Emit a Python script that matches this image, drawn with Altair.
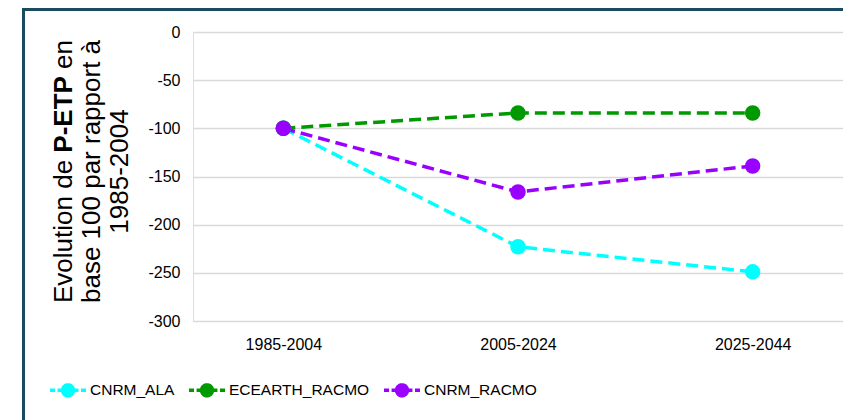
import altair as alt
import pandas as pd

periods = ["1985-2004", "2005-2024", "2025-2044"]
series_names = ["CNRM_ALA", "ECEARTH_RACMO", "CNRM_RACMO"]
cnrm_ala = [-100, -223, -249]
ecearth_racmo = [-100, -84, -84]
cnrm_racmo = [-100, -166, -139]
series_colors = ["#00FFFF", "#009900", "#9900FF"]
y_ticks = [0, -50, -100, -150, -200, -250, -300]

rows = []
for name, vals in zip(series_names, [cnrm_ala, ecearth_racmo, cnrm_racmo]):
    for p, v in zip(periods, vals):
        rows.append({"serie": name, "periode": p, "valeur": v, "ordre": series_names.index(name)})
df = pd.DataFrame(rows)

FONT = "Liberation Sans"
W, H = 650, 289
PAD_L, PAD_T, PAD_R, PAD_B = 185, 24, 0, 99
FRAME = "#1B4B5F"

x_enc = alt.X("periode:N", sort=periods,
              scale=alt.Scale(type="point", padding=0.385),
              axis=alt.Axis(title=None, labelAngle=0, ticks=False, domain=False,
                            labelPadding=15, labelFontSize=16, labelFont=FONT,
                            labelColor="#000000", grid=False))
y_enc = alt.Y("valeur:Q", scale=alt.Scale(domain=[-300, 0], nice=False),
              axis=alt.Axis(title=None, values=y_ticks, ticks=False, domain=False,
                            labelExpr="toString(datum.value)",
                            labelPadding=13, labelFontSize=16, labelFont=FONT,
                            labelColor="#000000", grid=True, gridColor="#D9D9D9",
                            gridWidth=1.5))
color_scale = alt.Scale(domain=series_names, range=series_colors)

# legend symbol: dashes + a dot drawn as concentric rings
sym_path = ("M-1,0L-0.72,0M-0.58,0L-0.3,0M0.3,0L0.58,0M0.72,0L1,0"
            "M0.3,0A0.3,0.3 0 1 1 -0.3,0A0.3,0.3 0 1 1 0.3,0Z"
            "M0.2,0A0.2,0.2 0 1 1 -0.2,0A0.2,0.2 0 1 1 0.2,0Z"
            "M0.1,0A0.1,0.1 0 1 1 -0.1,0A0.1,0.1 0 1 1 0.1,0Z")

lines = alt.Chart(df).mark_line(strokeDash=[12, 6], strokeWidth=3.5).encode(
    x=x_enc, y=y_enc,
    color=alt.Color("serie:N", scale=color_scale,
                    legend=alt.Legend(
                        title=None, orient="none", direction="horizontal",
                        legendX=-145, legendY=338,
                        symbolType=sym_path, symbolSize=1296, symbolStrokeWidth=3.5,
                        symbolDash=[1, 0],
                        labelFont=FONT, labelFontSize=15.5, labelLimit=0,
                        labelColor="#000000", labelOffset=2, columnPadding=7,
                        padding=0)),
    detail="serie:N",
    order="ordre:Q",
)
points = alt.Chart(df).mark_circle(size=240, opacity=1).encode(
    x=x_enc, y=y_enc,
    color=alt.Color("serie:N", scale=color_scale, legend=None),
    order="ordre:Q",
)

one = pd.DataFrame({"k": [0]})
frame_top = alt.Chart(one).mark_rule(color=FRAME, strokeWidth=3).encode(
    x=alt.value(-171), x2=alt.value(W + PAD_R), y=alt.value(-22.5))
frame_left = alt.Chart(one).mark_rule(color=FRAME, strokeWidth=3).encode(
    x=alt.value(-169.5), y=alt.value(-24), y2=alt.value(H + PAD_B))

def vtext(txt, x, y, align, weight="normal"):
    return alt.Chart(pd.DataFrame({"txt": [txt]})).mark_text(
        angle=270, align=align, baseline="alphabetic", font=FONT, fontSize=26,
        fontWeight=weight, color="#000000").encode(
        text="txt:N", x=alt.value(x), y=alt.value(y))

t1a = vtext("Evolution de", -121, 271, "left")
t1b = vtext("P-ETP", -121, 120.7, "left", "bold")
t1c = vtext("en", -121, 36.9, "left")
t2 = vtext("base 100 par rapport à", -93, 139.5, "center")
t3 = vtext("1985-2004", -65, 139.5, "center")

chart = alt.layer(frame_top, frame_left, lines, points, t1a, t1b, t1c, t2, t3).properties(
    width=W, height=H,
    autosize=alt.AutoSizeParams(type="none"),
    padding={"left": PAD_L, "top": PAD_T, "right": PAD_R, "bottom": PAD_B},
).configure_view(stroke="#000000", strokeWidth=1.5).configure(background="white")

chart.save("out.html", embed_options={"renderer": "svg", "actions": False})
